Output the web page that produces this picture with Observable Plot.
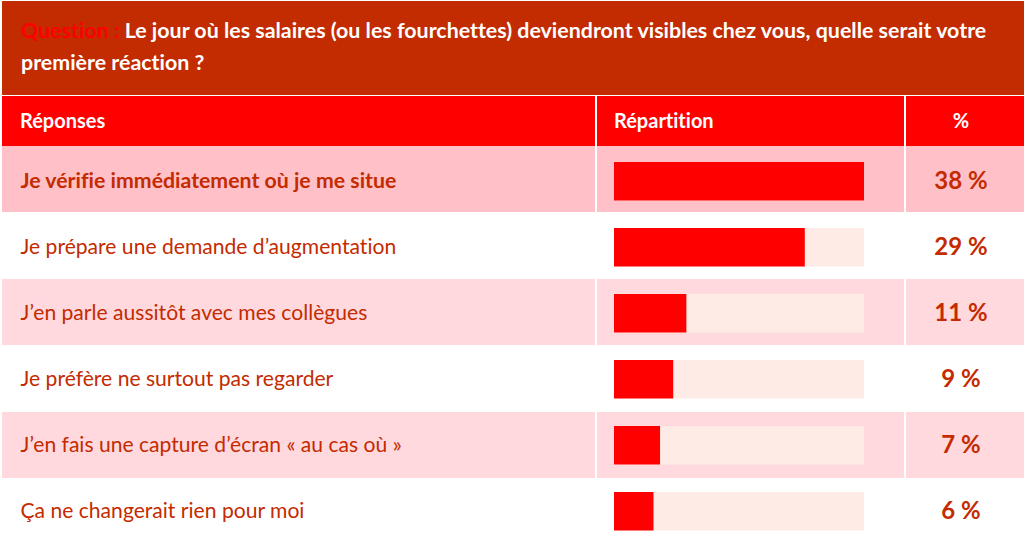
<!DOCTYPE html>
<html lang="fr">
<head>
<meta charset="utf-8">
<script src="https://cdn.jsdelivr.net/npm/d3@7"></script>
<script src="https://cdn.jsdelivr.net/npm/@observablehq/plot@0.6"></script>
<style>
  html, body { margin: 0; padding: 0; background: #fff; }
  #wrap { position: relative; width: 1024px; height: 545px; overflow: hidden; background: #fff; font-family: Lato, "Open Sans", sans-serif; font-variant-ligatures: none; }
  #wrap text { font-variant-ligatures: none; }
  .abs { position: absolute; }
  #title { left: 2px; top: 1px; width: 1022px; height: 93.5px; background: #C32B00; }
  #titleText { left: 21px; top: 15px; font-size: 21.4px; line-height: 31.5px; font-weight: 700; color: #fff; white-space: nowrap; }
  #titleText .q { color: #FF0000; }
  .hcell { background: #FF0000; top: 96px; height: 49.5px; }
  .htxt { color: #fff; font-weight: 700; font-size: 20px; line-height: 24px; top: 107.5px; white-space: nowrap; }
  #plot { position: absolute; left: 0; top: 146px; }
</style>
</head>
<body>
<div id="wrap">
  <div id="title" class="abs"></div>
  <div id="titleText" class="abs"></div>
  <div id="bands"></div>
  <div id="plot"></div>
</div>
<script>
// ---- data ----
const questionLabel = "Question :";
const questionText = ["Le jour où les salaires (ou les fourchettes) deviendront visibles chez vous, quelle serait votre", "première réaction ?"];
const headers = ["Réponses", "Répartition", "%"];
const answers = [
  "Je vérifie immédiatement où je me situe",
  "Je prépare une demande d’augmentation",
  "J’en parle aussitôt avec mes collègues",
  "Je préfère ne surtout pas regarder",
  "J’en fais une capture d’écran « au cas où »",
  "Ça ne changerait rien pour moi"
];
const values = [38, 29, 11, 9, 7, 6];

const rows = answers.map((answer, i) => ({answer, value: values[i]}));
const maxV = d3.max(values);

// ---- layout ----
const W = 1024, tableTop = 146, tableH = 545 - tableTop;
const colEdges = [[2, 595], [597, 904], [906, 1024]];
const rowH = tableH / answers.length;
const textColor = "#C42B00";
const rowFill = i => i === 0 ? "#FFC1C7" : (i % 2 === 0 ? "#FFD9DE" : "#FFFFFF");

// title
document.getElementById("titleText").innerHTML =
  `<span class="q">${questionLabel}</span> ${questionText[0]}<br>${questionText[1]}`;

// header + row backgrounds
const bands = document.getElementById("bands");
colEdges.forEach(([a, b], j) => {
  const c = document.createElement("div");
  c.className = "abs hcell";
  c.style.left = a + "px"; c.style.width = (b - a) + "px";
  bands.appendChild(c);
  const t = document.createElement("div");
  t.className = "abs htxt";
  t.textContent = headers[j];
  if (j === 2) { t.style.left = a + "px"; t.style.width = (b - a - 8) + "px"; t.style.textAlign = "center"; }
  else t.style.left = (j === 0 ? 20 : 614) + "px";
  bands.appendChild(t);
});
answers.forEach((_, i) => {
  colEdges.forEach(([a, b]) => {
    const c = document.createElement("div");
    c.className = "abs";
    c.style.left = a + "px"; c.style.width = (b - a) + "px";
    c.style.top = (tableTop + i * rowH) + "px";
    c.style.height = (rowH - 1) + "px";
    c.style.background = rowFill(i);
    bands.appendChild(c);
  });
});

// ---- chart ----
const chart = Plot.plot({
  width: W,
  height: tableH,
  margin: 0,
  style: {background: "transparent", fontFamily: "Lato, 'Open Sans', sans-serif", overflow: "visible"},
  x: {domain: [0, maxV], range: [614, 864], axis: null},
  y: {domain: answers, range: [0, tableH], padding: 0, axis: null},
  marks: [
    Plot.barX(rows, {y: "answer", x1: 0, x2: () => maxV, fill: "#FFEBE6", insetTop: 14, insetBottom: 13.5}),
    Plot.barX(rows, {y: "answer", x1: 0, x2: "value", fill: "#FF0000", insetTop: 14, insetBottom: 13.5}),
    Plot.text(rows.slice(0, 1), {y: "answer", text: "answer", frameAnchor: "left", dx: 20, textAnchor: "start", fill: textColor, fontSize: 21.3, fontWeight: "bold"}),
    Plot.text(rows.slice(1), {y: "answer", text: "answer", frameAnchor: "left", dx: 20, textAnchor: "start", fill: textColor, fontSize: 21.1}),
    Plot.text(rows, {y: "answer", text: d => `${d.value} %`, frameAnchor: "right", dx: -63.5, textAnchor: "middle", fill: textColor, fontSize: 24, fontWeight: "bold"})
  ]
});
document.getElementById("plot").appendChild(chart);
</script>
</body>
</html>
